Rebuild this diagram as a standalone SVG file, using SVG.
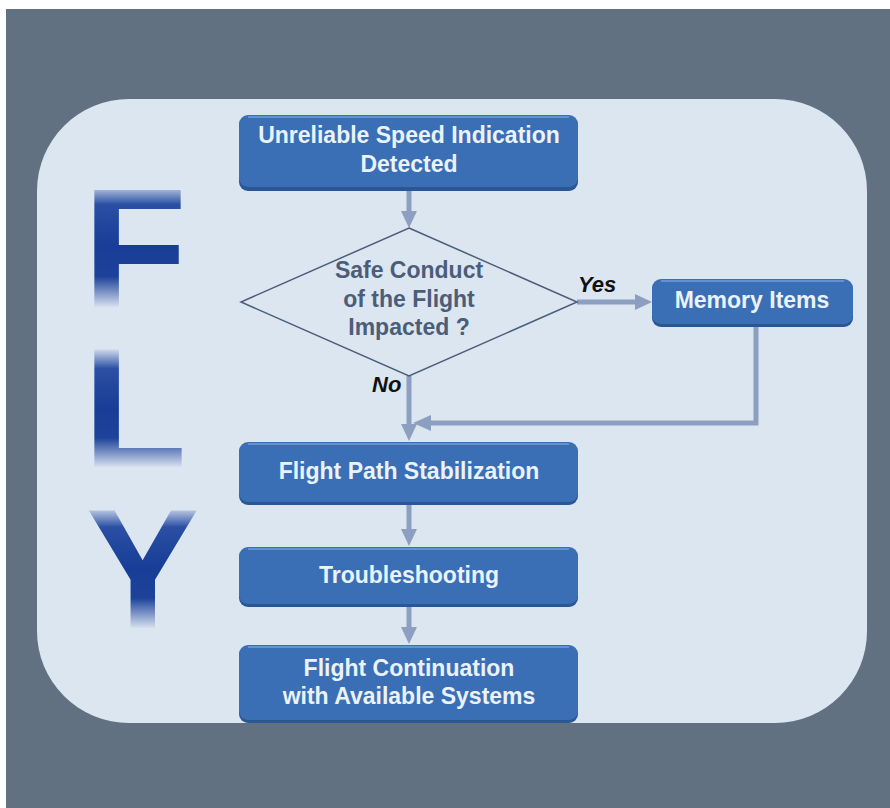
<svg xmlns="http://www.w3.org/2000/svg" width="890" height="808" viewBox="0 0 890 808">
  <style>
    .box { fill: #3a6fb6; }
    .shadow { fill: #2a5793; }
    .hl { fill: none; stroke: #6f9fdb; stroke-width: 1.5; }
    .bt { font-family: "Liberation Sans", Arial, sans-serif; font-weight: bold; font-size: 23px; fill: #eaf2fb; text-anchor: middle; }
    .dt { font-family: "Liberation Sans", Arial, sans-serif; font-weight: bold; font-size: 23px; fill: #4b5d78; text-anchor: middle; }
    .lbl { font-family: "Liberation Sans", Arial, sans-serif; font-weight: bold; font-style: italic; font-size: 22px; fill: #111111; }
    .conn { stroke: #8d9fc1; stroke-width: 5; fill: none; }
    .head { fill: #8d9fc1; }
    .fly { font-family: "Liberation Sans", Arial, sans-serif; font-weight: bold; font-size: 170px; }
  </style>
  <defs>
    <linearGradient id="gF" gradientUnits="userSpaceOnUse" x1="0" y1="185" x2="0" y2="307">
      <stop offset="0" stop-color="#c9d5ea"/>
      <stop offset="0.16" stop-color="#2a4fa3"/>
      <stop offset="0.5" stop-color="#173d96"/>
      <stop offset="0.75" stop-color="#1c4299"/>
      <stop offset="1" stop-color="#d6e0ef"/>
    </linearGradient>
    <linearGradient id="gL" gradientUnits="userSpaceOnUse" x1="0" y1="350" x2="0" y2="467">
      <stop offset="0" stop-color="#c9d5ea"/>
      <stop offset="0.16" stop-color="#2a4fa3"/>
      <stop offset="0.5" stop-color="#173d96"/>
      <stop offset="0.75" stop-color="#1c4299"/>
      <stop offset="1" stop-color="#d6e0ef"/>
    </linearGradient>
    <linearGradient id="gY" gradientUnits="userSpaceOnUse" x1="0" y1="508" x2="0" y2="628">
      <stop offset="0" stop-color="#c9d5ea"/>
      <stop offset="0.16" stop-color="#2a4fa3"/>
      <stop offset="0.5" stop-color="#173d96"/>
      <stop offset="0.75" stop-color="#1c4299"/>
      <stop offset="1" stop-color="#d6e0ef"/>
    </linearGradient>
  </defs>

  <rect x="0" y="0" width="890" height="808" fill="#ffffff"/>
  <rect x="6" y="9" width="884" height="799" fill="#627181"/>
  <rect x="37" y="99" width="830" height="624" rx="92" ry="92" fill="#dce6f1"/>

  <g id="fly">
    <text class="fly"><tspan x="83" y="307" fill="url(#gF)">F</tspan><tspan x="83" y="467" fill="url(#gL)">L</tspan><tspan x="86" y="628" fill="url(#gY)">Y</tspan></text>
  </g>

  <g id="connectors">
    <line class="conn" x1="409" y1="189" x2="409" y2="212"/>
    <polygon class="head" points="401,211 417,211 409,228"/>
    <line class="conn" x1="577" y1="302" x2="636" y2="302"/>
    <polygon class="head" points="635,294 635,310 652,302"/>
    <line class="conn" x1="409" y1="376" x2="409" y2="426"/>
    <polygon class="head" points="401,424 417,424 409,441"/>
    <polyline class="conn" points="756,326 756,423 430,423"/>
    <polygon class="head" points="431,415 431,431 413,423"/>
    <line class="conn" x1="409" y1="504" x2="409" y2="530"/>
    <polygon class="head" points="401,529 417,529 409,546"/>
    <line class="conn" x1="409" y1="606" x2="409" y2="628"/>
    <polygon class="head" points="401,627 417,627 409,644"/>
    <text class="lbl" x="578" y="292">Yes</text>
    <text class="lbl" x="372" y="392">No</text>
  </g>

  <g id="n1">
    <rect class="shadow" x="239" y="117" width="339" height="74" rx="9"/>
    <rect class="box" x="239" y="115" width="339" height="72" rx="9"/>
    <path class="hl" d="M248,117 H569"/>
    <text class="bt" x="409" y="143">Unreliable Speed Indication</text>
    <text class="bt" x="409" y="172">Detected</text>
  </g>

  <g id="decision">
    <polygon points="409,228 577,302 409,376 241,302" fill="#dce6f1" stroke="#4b5d78" stroke-width="1.5"/>
    <text class="dt" x="409" y="278">Safe Conduct</text>
    <text class="dt" x="409" y="307">of the Flight</text>
    <text class="dt" x="409" y="335">Impacted ?</text>
  </g>

  <g id="memory">
    <rect class="shadow" x="652" y="281" width="201" height="46" rx="9"/>
    <rect class="box" x="652" y="279" width="201" height="45" rx="9"/>
    <path class="hl" d="M661,281 H844"/>
    <text class="bt" x="752" y="308">Memory Items</text>
  </g>

  <g id="n3">
    <rect class="shadow" x="239" y="444" width="339" height="61" rx="9"/>
    <rect class="box" x="239" y="442" width="339" height="60" rx="9"/>
    <path class="hl" d="M248,444 H569"/>
    <text class="bt" x="409" y="479">Flight Path Stabilization</text>
  </g>

  <g id="n4">
    <rect class="shadow" x="239" y="549" width="339" height="58" rx="9"/>
    <rect class="box" x="239" y="547" width="339" height="57" rx="9"/>
    <path class="hl" d="M248,549 H569"/>
    <text class="bt" x="409" y="583">Troubleshooting</text>
  </g>

  <g id="n5">
    <rect class="shadow" x="239" y="647" width="339" height="76" rx="9"/>
    <rect class="box" x="239" y="645" width="339" height="75" rx="9"/>
    <path class="hl" d="M248,647 H569"/>
    <text class="bt" x="409" y="676">Flight Continuation</text>
    <text class="bt" x="409" y="704">with Available Systems</text>
  </g>
</svg>
